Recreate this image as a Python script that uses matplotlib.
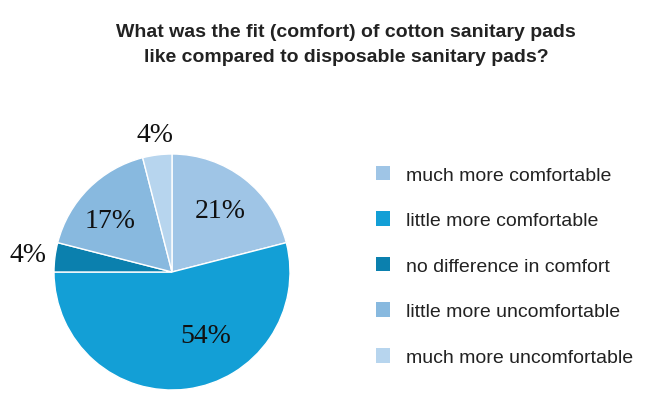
import numpy as np
from matplotlib import pyplot as plt
from matplotlib.patches import Patch

# data
categories = ["much more comfortable", "little more comfortable", "no difference in comfort",
              "little more uncomfortable", "much more uncomfortable"]
shares = [21, 54, 4, 17, 4]
colors = ["#9fc5e6", "#139fd6", "#0b80ae", "#88b9df", "#b7d5ee"]
title = "What was the fit (comfort) of cotton sanitary pads\nlike compared to disposable sanitary pads?"

# label placement (angle in degrees, radius as fraction of pie radius)
label_angle = [52, -62, 173, 140, 97]
label_dist = [0.66, 0.61, 1.23, 0.68, 1.17]

fig = plt.figure(figsize=(6.46, 4.02), dpi=100)
ax = fig.add_axes([54 / 646, 11 / 402, 236 / 646, 236 / 402])

ax.pie(shares, colors=colors, startangle=90, counterclock=False, radius=1,
       wedgeprops=dict(edgecolor="white", linewidth=1))
ax.set_xlim(-1, 1)
ax.set_ylim(-1, 1)
ax.set_aspect("equal")
ax.axis("off")

for v, a, d in zip(shares, label_angle, label_dist):
    t = np.deg2rad(a)
    ax.text(d * np.cos(t), d * np.sin(t), f"{v}%", ha="center", va="center",
            fontsize=20, family="Liberation Serif", color="#111111")

handles = [Patch(facecolor=c, edgecolor="none") for c in colors]
fig.legend(handles, categories, loc="upper left", bbox_to_anchor=(358 / 646, 1 - 149 / 402),
           frameon=False, prop=dict(family="Liberation Sans", size=14),
           handlelength=0.77, handleheight=0.77, handletextpad=0.8, labelspacing=1.42,
           labelcolor="#222222")

fig.text(346 / 646, 1 - 45 / 402, title, ha="center", va="center", fontsize=14,
         fontweight="bold", family="Liberation Sans", color="#222222", linespacing=1.62)

fig.savefig("out.png", dpi=100)
